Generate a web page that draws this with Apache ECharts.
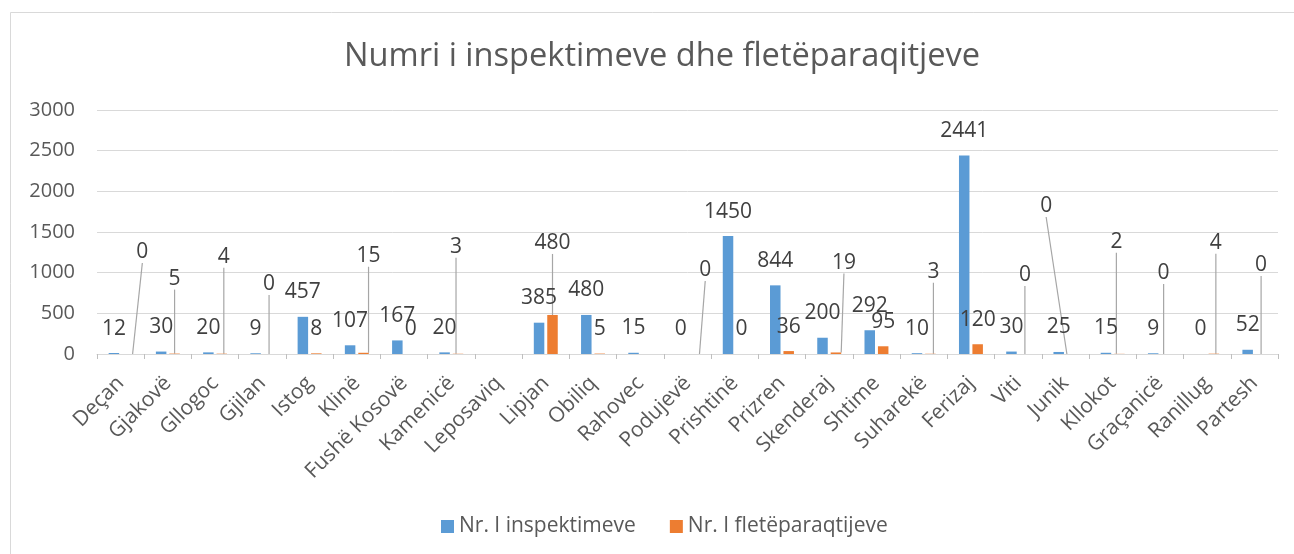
<!DOCTYPE html>
<html>
<head>
<meta charset="utf-8">
<script src="https://cdn.jsdelivr.net/npm/echarts@6/dist/echarts.min.js"></script>
<style>
  html, body { margin: 0; padding: 0; background: #fff; }
  #main { width: 1294px; height: 554px; }
</style>
</head>
<body>
<div id="main"></div>
<script>
// ---- data ----
const categories = ['Deçan', 'Gjakovë', 'Gllogoc', 'Gjilan', 'Istog', 'Klinë', 'Fushë Kosovë', 'Kamenicë',
  'Leposaviq', 'Lipjan', 'Obiliq', 'Rahovec', 'Podujevë', 'Prishtinë', 'Prizren', 'Skenderaj', 'Shtime',
  'Suharekë', 'Ferizaj', 'Viti', 'Junik', 'Kllokot', 'Graçanicë', 'Ranillug', 'Partesh'];
const inspektimeve = [12, 30, 20, 9, 457, 107, 167, 20, null, 385, 480, 15, 0, 1450, 844, 200, 292, 10, 2441, 30, 25, 15, 9, 0, 52];
const fleteparaqitjeve = [0, 5, 4, 0, 8, 15, 0, 3, null, 480, 5, null, 0, 0, 36, 19, 95, 3, 120, 0, 0, 2, 0, 4, 0];
const yTicks = [0, 500, 1000, 1500, 2000, 2500, 3000];
const seriesNames = ['Nr. I inspektimeve', 'Nr. I fletëparaqtijeve'];

// label displacement (px) for the second series' labels that were moved away with leader lines
const orangeLabelShift = [[15, -77], [0, -50], [2, -72], [0, -45], null, [5, -72], null, [-2, -82], null,
  [0, -47], null, null, [11, -59], null, null, [8, -65], null, [3, -57], null, [0, -54], [-26, -123],
  [-3, -87], [-3, -56], [2, -86], [0, -64]];

const FONT = 'Open Sans';
const chart = echarts.init(document.getElementById('main'), null, { renderer: 'canvas' });

const orangeData = fleteparaqitjeve.map((v, i) => ({
  value: v,
  labelLine: { show: !!orangeLabelShift[i] }
}));

chart.setOption({
  animation: false,
  backgroundColor: '#ffffff',
  title: {
    text: 'Numri i inspektimeve dhe fletëparaqitjeve',
    left: 339,
    top: 35,
    textStyle: { fontFamily: FONT, fontSize: 32.6, fontWeight: 'normal', color: '#595959' }
  },
  legend: {
    data: seriesNames,
    left: 436,
    top: 511,
    icon: 'rect',
    itemWidth: 13,
    itemHeight: 13,
    itemGap: 34,
    textStyle: { fontFamily: FONT, fontSize: 21, color: '#595959' }
  },
  grid: { left: 97, right: 16, top: 110, bottom: 200, containLabel: false },
  xAxis: {
    type: 'category',
    data: categories,
    axisLine: { lineStyle: { color: '#D9D9D9', width: 1 } },
    axisTick: { show: true, length: 5, lineStyle: { color: '#BFBFBF' } },
    axisLabel: { interval: 0, rotate: 45, margin: 26, fontFamily: FONT, fontSize: 21, color: '#595959' }
  },
  yAxis: {
    type: 'value',
    min: yTicks[0],
    max: yTicks[yTicks.length - 1],
    interval: yTicks[1] - yTicks[0],
    axisLine: { show: false },
    axisTick: { show: false },
    splitLine: { lineStyle: { color: '#D9D9D9', width: 1 } },
    axisLabel: { margin: 22, fontFamily: FONT, fontSize: 20, color: '#595959', formatter: v => String(v) }
  },
  graphic: [{
    type: 'rect',
    left: 8, top: 10,
    shape: { width: 1320, height: 580 },
    style: { fill: 'none', stroke: '#D9D9D9', lineWidth: 1 },
    silent: true
  }],
  series: [
    {
      name: seriesNames[0],
      type: 'bar',
      data: inspektimeve,
      barWidth: 10.5,
      barGap: '28%',
      itemStyle: { color: '#5B9BD5' },
      label: { show: true, position: 'top', distance: 14, fontFamily: FONT, fontSize: 21, color: '#404040' }
    },
    {
      name: seriesNames[1],
      type: 'bar',
      data: orangeData,
      barWidth: 10.5,
      itemStyle: { color: '#ED7D31' },
      label: { show: true, position: 'top', distance: 14, fontFamily: FONT, fontSize: 21, color: '#404040' },
      labelLine: { show: false, lineStyle: { color: '#A6A6A6', width: 1.2 } },
      labelLayout: function (p) {
        const s = orangeLabelShift[p.dataIndex];
        if (!s) return {};
        return { dx: s[0], dy: s[1] };
      }
    }
  ]
});
</script>
</body>
</html>
